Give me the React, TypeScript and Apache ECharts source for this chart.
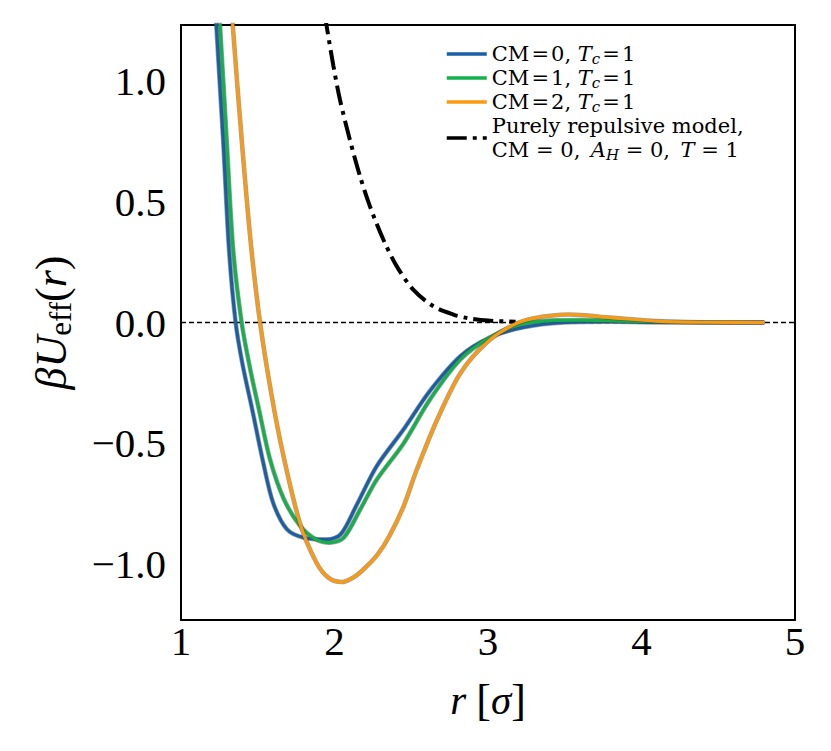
import React, { useEffect, useRef } from "react";
import * as echarts from "echarts";

// ---- data ----
const rCM0 = [1.2, 1.23, 1.275, 1.313, 1.356, 1.4, 1.464, 1.536, 1.6, 1.69, 1.8, 1.95, 2.04, 2.14, 2.275, 2.45, 2.62, 2.82, 3.01, 3.23, 3.5, 3.8, 4.2, 4.8];
const uCM0 = [1.6, 1.23, 0.75, 0.3, 0.0, -0.17, -0.36, -0.58, -0.745, -0.855, -0.89, -0.897, -0.876, -0.76, -0.594, -0.442, -0.284, -0.139, -0.063, -0.02, 0.0, 0.003, 0.0, 0.0];

const rCM1 = [1.22, 1.254, 1.298, 1.34, 1.395, 1.45, 1.508, 1.58, 1.67, 1.775, 1.88, 1.97, 2.06, 2.17, 2.275, 2.45, 2.62, 2.82, 3.01, 3.2, 3.4, 3.6, 3.9, 4.3, 4.8];
const uCM1 = [1.55, 1.23, 0.75, 0.3, 0.0, -0.19, -0.36, -0.566, -0.73, -0.84, -0.897, -0.91, -0.89, -0.77, -0.65, -0.5, -0.32, -0.153, -0.063, -0.01, 0.008, 0.01, 0.006, 0.001, 0.0];

const rCM2 = [1.31, 1.337, 1.4, 1.456, 1.515, 1.59, 1.667, 1.775, 1.88, 1.96, 2.047, 2.12, 2.19, 2.28, 2.36, 2.45, 2.535, 2.67, 2.82, 2.99, 3.165, 3.3, 3.53, 3.8, 4.1, 4.4, 4.8];
const uCM2 = [1.5, 1.23, 0.72, 0.32, 0.0, -0.3, -0.55, -0.83, -0.99, -1.055, -1.073, -1.055, -1.02, -0.96, -0.88, -0.76, -0.61, -0.4, -0.21, -0.084, -0.01, 0.018, 0.033, 0.02, 0.006, 0.001, 0.0];

const rRep = [1.9, 1.949, 1.993, 2.036, 2.1, 2.166, 2.231, 2.318, 2.405, 2.513, 2.644, 2.775, 2.86, 3.0, 3.18];
const uRep = [1.42, 1.225, 1.06, 0.92, 0.756, 0.605, 0.48, 0.343, 0.233, 0.136, 0.067, 0.033, 0.019, 0.008, 0.003];

const xTicks = [1, 2, 3, 4, 5];
const yTicks = [-1.0, -0.5, 0.0, 0.5, 1.0];
const xRange = [1, 5];
const yRange = [-1.23, 1.23];

const seriesNames = [
  "CM=0, Tc=1",
  "CM=1, Tc=1",
  "CM=2, Tc=1",
  "Purely repulsive model, CM=0, AH=0, T=1",
];
const legendLabels = [
  "CM\u200A=\u200A0, {i|T}{s|c}\u200A=\u200A1",
  "CM\u200A=\u200A1, {i|T}{s|c}\u200A=\u200A1",
  "CM\u200A=\u200A2, {i|T}{s|c}\u200A=\u200A1",
  "Purely repulsive model,\nCM = 0,\u2002{i|A}{s|H} = 0,\u2002{i|T} = 1",
];
const xName = "{i|r} {n|[}{i|σ}{n|]}";
const yName = "{i|βU}{s|eff}{n|(}{i|r}{n|)}";

const colors = ["#1a5ea5", "#13b04b", "#fb9a10", "#000000"];

const FONT = '"Liberation Serif", "DejaVu Serif", serif';
const LFONT = '"DejaVu Serif", "Liberation Serif", serif';

const zip = (r: number[], u: number[]) => r.map((x, i) => [x, u[i]]);

export default function App() {
  const ref = useRef<HTMLDivElement>(null);
  useEffect(() => {
    if (!ref.current) return;
    const chart = echarts.init(ref.current, null, { renderer: "svg" });

    const curves = [zip(rCM0, uCM0), zip(rCM1, uCM1), zip(rCM2, uCM2)];
    const series: any[] = [
      {
        name: "_zero",
        type: "line",
        data: [
          [xRange[0], 0],
          [xRange[1], 0],
        ],
        symbol: "none",
        silent: true,
        lineStyle: { color: "#000", width: 1.3, type: [5, 3] },
      },
      {
        name: seriesNames[3],
        type: "line",
        data: zip(rRep, uRep),
        symbol: "none",
        smooth: 0.3,
        color: colors[3],
        lineStyle: { color: colors[3], width: 4, type: [20, 6, 4, 6] },
      },
    ];
    curves.forEach((d, i) => {
      series.push({
        name: "_outline" + i,
        type: "line",
        data: d,
        symbol: "none",
        smooth: 0.3,
        silent: true,
        lineStyle: { color: "rgba(70,70,70,0.5)", width: 4.6 },
      });
      series.push({
        name: seriesNames[i],
        type: "line",
        data: d,
        symbol: "none",
        smooth: 0.3,
        color: colors[i],
        lineStyle: { color: colors[i], width: 3.2 },
      });
    });

    const frameLine = { show: true, onZero: false, lineStyle: { color: "#000", width: 2 } };
    const tickFmt = (v: number) => (v < 0 ? "\u2212" : "") + Math.abs(v).toFixed(1);

    chart.setOption({
      animation: false,
      backgroundColor: "#ffffff",
      grid: { left: 181, right: 36, top: 25, bottom: 131, containLabel: false, outerBoundsMode: "none" },
      xAxis: [
        {
          type: "value",
          min: xRange[0],
          max: xRange[1],
          interval: 1,
          position: "bottom",
          axisLine: frameLine,
          axisTick: { show: false },
          splitLine: { show: false },
          axisLabel: {
            color: "#000",
            fontFamily: FONT,
            fontSize: 41,
            margin: 21,
            verticalAlign: "middle",
            customValues: xTicks,
            formatter: (v: number) => String(v),
          },
          name: xName,
          nameLocation: "middle",
          nameGap: 58,
          nameMoveOverlap: false,
          nameTextStyle: {
            color: "#000",
            fontFamily: FONT,
            fontSize: 41,
            rich: {
              i: { fontFamily: FONT, fontSize: 41, fontStyle: "italic", color: "#000" },
              n: { fontFamily: FONT, fontSize: 44, color: "#000" },
            },
          },
        },
        {
          type: "value",
          min: xRange[0],
          max: xRange[1],
          position: "top",
          axisLine: frameLine,
          axisTick: { show: false },
          axisLabel: { show: false },
          splitLine: { show: false },
        },
      ],
      yAxis: [
        {
          type: "value",
          min: yRange[0],
          max: yRange[1],
          position: "left",
          axisLine: frameLine,
          axisTick: { show: false },
          splitLine: { show: false },
          axisLabel: {
            color: "#000",
            fontFamily: FONT,
            fontSize: 41,
            margin: 15,
            padding: [0, 0, 6, 0],
            customValues: yTicks,
            formatter: tickFmt,
          },
          name: yName,
          nameLocation: "middle",
          nameGap: 104,
          nameMoveOverlap: false,
          nameTextStyle: {
            color: "#000",
            fontFamily: FONT,
            fontSize: 44,
            rich: {
              i: { fontFamily: FONT, fontSize: 44, fontStyle: "italic", color: "#000", lineHeight: 52 },
              n: { fontFamily: FONT, fontSize: 44, color: "#000", lineHeight: 52 },
              s: { fontFamily: FONT, fontSize: 31, color: "#000", lineHeight: 52, padding: [18, 0, 0, 0] },
            },
          },
        },
        {
          type: "value",
          min: yRange[0],
          max: yRange[1],
          position: "right",
          axisLine: frameLine,
          axisTick: { show: false },
          axisLabel: { show: false },
          splitLine: { show: false },
        },
      ],
      legend: {
        data: seriesNames,
        orient: "vertical",
        left: 440,
        top: 37,
        padding: 5,
        itemWidth: 40,
        itemHeight: 14,
        itemGap: 0,
        selectedMode: false,
        itemStyle: { opacity: 0, borderWidth: 0 },
        lineStyle: { width: 3.5 },
        formatter: (name: string) => legendLabels[seriesNames.indexOf(name)],
        textStyle: {
          color: "#000",
          fontFamily: LFONT,
          fontSize: 21,
          lineHeight: 24,
          rich: {
            i: { fontFamily: LFONT, fontSize: 21, fontStyle: "italic", color: "#000", lineHeight: 24 },
            s: { fontFamily: LFONT, fontSize: 15, fontStyle: "italic", color: "#000", lineHeight: 24, padding: [9, 0, 0, 0] },
          },
        },
      },
      series,
    });

    return () => chart.dispose();
  }, []);

  return (
    <div
      ref={ref}
      style={{ position: "absolute", left: 0, top: 0, width: 831, height: 751, background: "#fff" }}
    />
  );
}
